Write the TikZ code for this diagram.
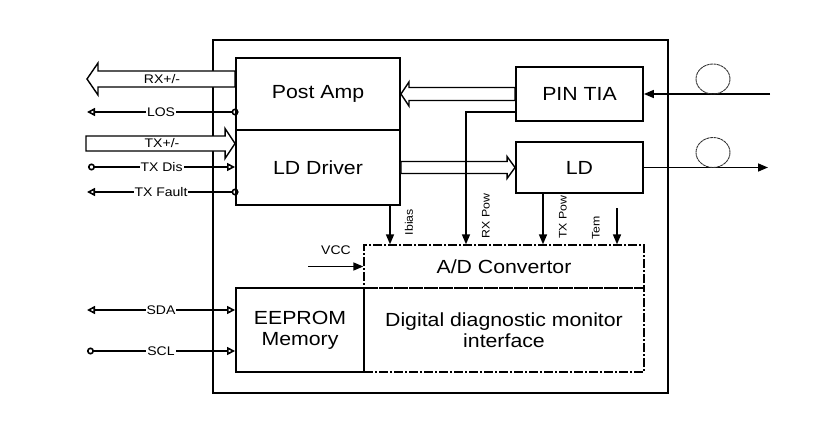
\documentclass[tikz,border=0pt]{standalone}
\usepackage{fontspec}
\setmainfont{Liberation Sans}[FakeStretch=1.12]
\usetikzlibrary{arrows.meta,calc}
\tikzset{
  otri/.tip={Triangle[open,length=8pt,width=8pt]},
  ocirc/.tip={Circle[open,length=7pt]},
  stip/.tip={Triangle[length=10pt,width=8pt]},
}
\newcommand{\hollowarrow}[5]{%
  \draw[fat] let \p1=(#1), \p2=(#2), \n1={#5} in
    (\x1,{\y1+#3}) -- ({\x2-\n1},{\y1+#3}) -- ({\x2-\n1},{\y1+#4}) -- (\x2,\y1)
    -- ({\x2-\n1},{\y1-#4}) -- ({\x2-\n1},{\y1-#3}) -- (\x1,{\y1-#3}) -- cycle;}

\begin{document}
\begin{tikzpicture}[x=1pt,y=-1pt,
  font=\fontsize{19}{21}\selectfont,
  modbox/.style={draw, line width=1.3pt, inner sep=0pt},
  blk/.style={draw, line width=1.9pt, inner sep=0pt, align=center},
  adbox/.style={draw, line width=1.3pt, dash pattern=on 9pt off 2pt on 2pt off 2pt, inner sep=0pt, align=center},
  sig/.style={draw, line width=1.6pt},
  fat/.style={draw, line width=1.4pt, fill=white, line join=miter},
  lab/.style={midway, fill=white, inner sep=1pt, font=\fontsize{12.5}{13}\selectfont},
  fatlab/.style={inner sep=0pt, font=\fontsize{12.5}{13}\selectfont},
  vlab/.style={rotate=90, inner sep=0pt, font=\fontsize{11}{12}\selectfont},
  fibre/.style={draw, line width=0.9pt, black!80, dash pattern=on 3pt off 0.6pt},
]
\useasboundingbox (0,0) rectangle (835,436);

\node[modbox, minimum width=455pt, minimum height=353pt] (module) at (440.5,216.5) {};

\node[blk, minimum width=164pt, minimum height=72pt] (postamp) at (318,94) {Post Amp};
\node[blk, minimum width=164pt, minimum height=75pt] (lddrv) at (318,167.5) {LD Driver};
\node[blk, minimum width=127pt, minimum height=54pt] (pintia) at (579.5,94) {PIN TIA};
\node[blk, minimum width=127pt, minimum height=51pt] (ld) at (579.5,167.5) {LD};
\node[adbox, minimum width=280pt, minimum height=43pt] (adc) at (504,266.5) {A/D Convertor};
\node[adbox, minimum width=280pt, minimum height=84pt] (ddm) at (504,330) {Digital diagnostic monitor\\interface};
\node[blk, minimum width=128pt, minimum height=84pt] (eeprom) at (300,330) {EEPROM\\Memory};

\coordinate (rxL) at (87,79);
\coordinate (txL) at (86,143.5);
\hollowarrow{[yshift=15pt]postamp.west}{rxL}{8pt}{16pt}{-11pt}
\hollowarrow{txL}{[yshift=24pt]lddrv.west}{7.5pt}{15pt}{10pt}
\hollowarrow{pintia.west}{pintia.west -| postamp.east}{6.5pt}{12pt}{-8pt}
\hollowarrow{ld.west -| lddrv.east}{ld.west}{6pt}{11pt}{8pt}
\node[fatlab] (rxlab) at (162,79) {RX+/-};
\node[fatlab] (txlab) at (162,143.5) {TX+/-};

\coordinate (losL) at (87,112);
\coordinate (txdisL) at (88,167);
\coordinate (txfL) at (87,192);
\coordinate (sdaL) at (87,310);
\coordinate (sclL) at (87,351);
\draw[sig, otri-ocirc, shorten >=-3.5pt] (losL) -- node[lab] (loslab) {LOS} (losL -| postamp.west);
\draw[sig, ocirc-otri] (txdisL) -- node[lab] (txdislab) {TX Dis} (txdisL -| lddrv.west);
\draw[sig, otri-ocirc, shorten >=-3.5pt] (txfL) -- node[lab] (txflab) {TX Fault} (txfL -| lddrv.west);
\draw[sig, otri-otri] (sdaL) -- node[lab] (sdalab) {SDA} (sdaL -| eeprom.west);
\draw[sig, ocirc-otri] (sclL) -- node[lab] (scllab) {SCL} (sclL -| eeprom.west);

\coordinate (ib) at ([xshift=72pt]lddrv.south);
\coordinate (txp) at ([xshift=-36.5pt]ld.south);
\coordinate (temtop) at (617,208);
\draw[sig, -stip] (ib) -- (ib |- adc.north);
\draw[sig, -stip] ([yshift=-18pt]pintia.west) -| ([xshift=-38pt]adc.north);
\draw[sig, -stip] (txp) -- (txp |- adc.north);
\draw[sig, -stip] (temtop) -- (temtop |- adc.north);
\node[vlab] (iblab) at (409,222) {Ibias};
\node[vlab] (rxplab) at (486,216) {RX Pow};
\node[vlab] (txplab) at (563,217) {TX Pow};
\node[vlab] (temlab) at (596,228) {Tem};

\coordinate (vccL) at (308,266.5);
\draw[sig, -stip] (vccL) -- (adc.west);
\node[fatlab] (vcclab) at (336,250) {VCC};

\coordinate (fibin) at (770,94);
\coordinate (fibout) at (768,167.5);
\draw[sig, -stip] (fibin) -- (pintia.east);
\draw[sig, -stip] (ld.east) -- (fibout);
\draw[fibre] (713,79) ellipse [x radius=17pt, y radius=15pt];
\draw[fibre] (713,152.5) ellipse [x radius=17pt, y radius=15pt];
\end{tikzpicture}
\end{document}
